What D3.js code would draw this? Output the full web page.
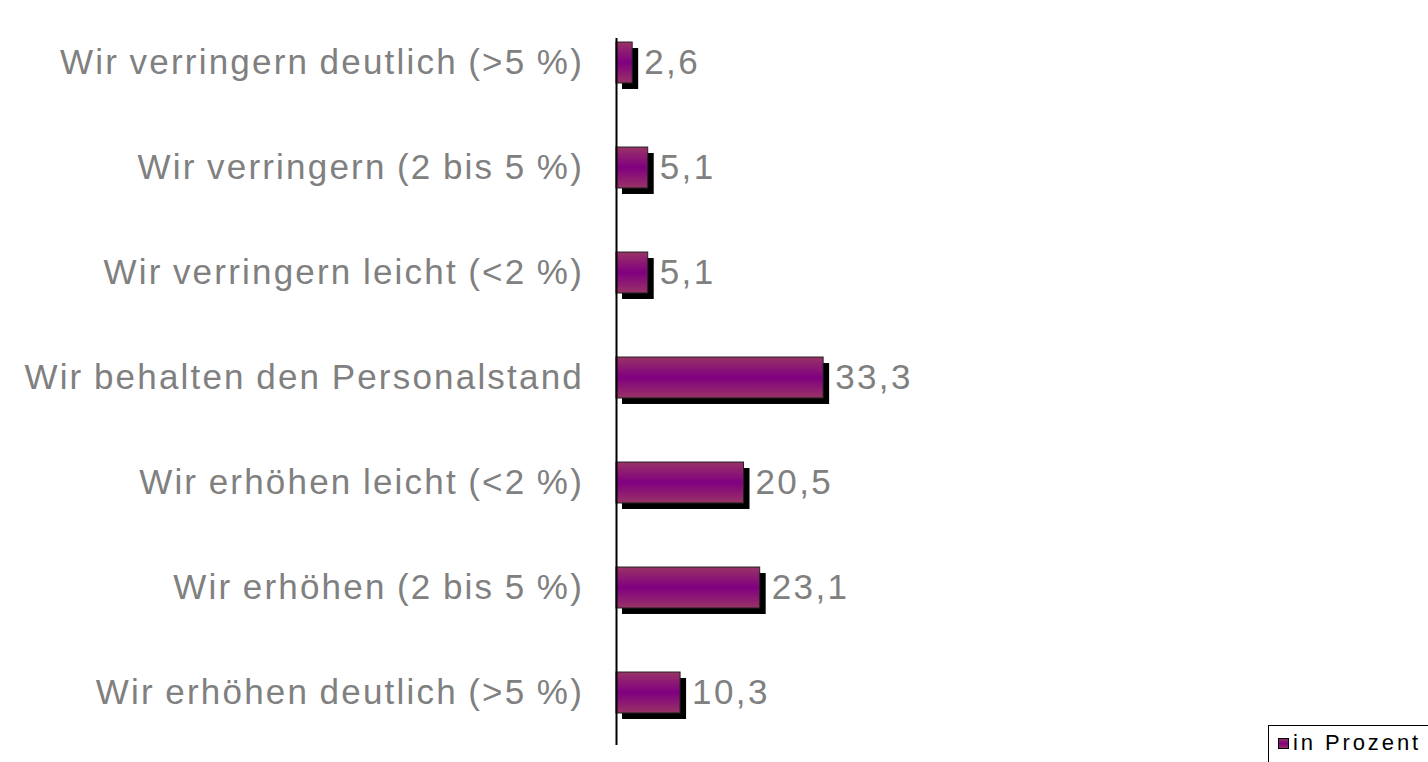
<!DOCTYPE html>
<html><head><meta charset="utf-8">
<script src="https://cdn.jsdelivr.net/npm/d3@7"></script>
<style>body{margin:0;background:#fff}svg{display:block}</style>
</head><body>
<script>
const categories = ["Wir verringern deutlich (>5 %)","Wir verringern (2 bis 5 %)","Wir verringern leicht (<2 %)","Wir behalten den Personalstand","Wir erhöhen leicht (<2 %)","Wir erhöhen (2 bis 5 %)","Wir erhöhen deutlich (>5 %)"];
const values = [2.6, 5.1, 5.1, 33.3, 20.5, 23.1, 10.3];
const valueLabels = ["2,6","5,1","5,1","33,3","20,5","23,1","10,3"];
const seriesName = "in Prozent";

const W=1428,H=762;
const svg=d3.select("body").append("svg").attr("width",W).attr("height",H);
const defs=svg.append("defs");
const g=defs.append("linearGradient").attr("id","grad").attr("x1",0).attr("y1",0).attr("x2",0).attr("y2",1);
g.append("stop").attr("offset","0%").attr("stop-color","#993366");
g.append("stop").attr("offset","50%").attr("stop-color","#800080");
g.append("stop").attr("offset","100%").attr("stop-color","#993366");

const x=d3.scaleLinear().domain([0,100]).range([616,616+622]);
const y=d3.scaleBand().domain(categories).range([10,745]).paddingInner(0.61).paddingOuter(0.305);

const font="'Liberation Sans', Arial, sans-serif";
// shadows
svg.selectAll("rect.sh").data(values).join("rect").attr("class","sh")
  .attr("x",x(0)+6).attr("y",(d,i)=>y(categories[i])+6)
  .attr("width",d=>x(d)-x(0)).attr("height",y.bandwidth()).attr("fill","#000");
svg.selectAll("rect.bar").data(values).join("rect").attr("class","bar")
  .attr("x",x(0)).attr("y",(d,i)=>y(categories[i]))
  .attr("width",d=>x(d)-x(0)).attr("height",y.bandwidth())
  .attr("fill","url(#grad)").attr("stroke","#222").attr("stroke-width",1);
// axis line
svg.append("line").attr("x1",616.5).attr("x2",616.5).attr("y1",38).attr("y2",745).attr("stroke","#000").attr("stroke-width",2);
// category labels
svg.selectAll("text.cat").data(categories).join("text").attr("class","cat")
  .attr("x",584).attr("y",d=>y(d)+y.bandwidth()/2+11)
  .attr("text-anchor","end").attr("font-family",font).attr("font-size",35)
  .attr("letter-spacing",2.2).attr("word-spacing",-1.5).attr("fill","#808080").text(d=>d);
// value labels
svg.selectAll("text.val").data(values).join("text").attr("class","val")
  .attr("x",d=>x(d)+12).attr("y",(d,i)=>y(categories[i])+y.bandwidth()/2+11)
  .attr("font-family",font).attr("font-size",35).attr("letter-spacing",2.4)
  .attr("fill","#808080").text((d,i)=>valueLabels[i]);
// legend
const lg=svg.append("g");
lg.append("rect").attr("x",1268.5).attr("y",725.5).attr("width",170).attr("height",40).attr("fill","#fff").attr("stroke","#000");
lg.append("rect").attr("x",1278.5).attr("y",738.5).attr("width",10).attr("height",10).attr("fill","url(#grad)").attr("stroke","#000");
lg.append("text").attr("x",1293).attr("y",750).attr("font-family",font).attr("font-size",22)
  .attr("letter-spacing",2.9).attr("fill","#000").text(seriesName);
</script>
</body></html>
